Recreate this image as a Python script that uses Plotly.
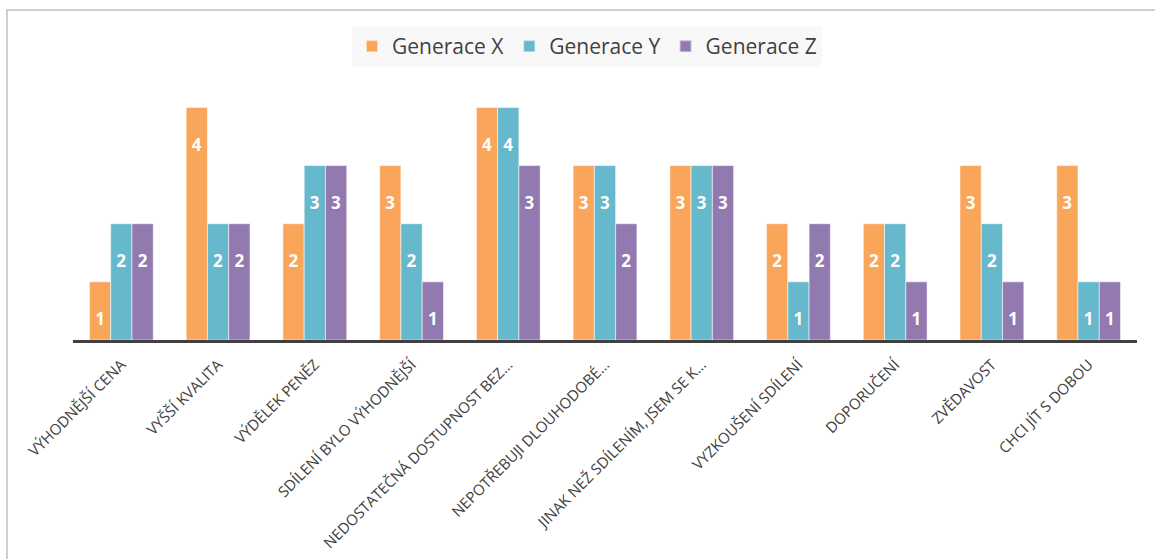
import plotly.graph_objects as go

categories = [
    "VÝHODNĚJŠÍ CENA",
    "VYŠŠÍ KVALITA",
    "VÝDĚLEK PENĚZ",
    "SDÍLENÍ BYLO VÝHODNĚJŠÍ",
    "NEDOSTATEČNÁ DOSTUPNOST BEZ…",
    "NEPOTŘEBUJI DLOUHODOBÉ…",
    "JINAK NEŽ SDÍLENÍM, JSEM SE K…",
    "VYZKOUŠENÍ SDÍLENÍ",
    "DOPORUČENÍ",
    "ZVĚDAVOST",
    "CHCI JÍT S DOBOU",
]
gen_x = [1, 4, 2, 3, 4, 3, 3, 2, 2, 3, 3]
gen_y = [2, 2, 3, 2, 4, 3, 3, 1, 2, 2, 1]
gen_z = [2, 2, 3, 1, 3, 2, 3, 2, 1, 1, 1]

series = [
    ("Generace X", gen_x, "#F9A65A"),
    ("Generace Y", gen_y, "#66B8CC"),
    ("Generace Z", gen_z, "#9279B0"),
]

W, H = 1155, 559
ml, mr, mt, mb = 73, 18, 90, 219
pw = W - ml - mr
ph = H - mt - mb

fig = go.Figure()
for name, vals, col in series:
    fig.add_trace(go.Bar(
        name=name, x=categories, y=vals,
        marker=dict(color=col, line=dict(color="rgba(255,255,255,0.55)", width=1)),
        text=vals, texttemplate=" <br>%{y}", textposition="inside",
        insidetextanchor="end", textangle=0,
        textfont=dict(family="Open Sans", size=17, color="white", weight="bold"),
    ))

def px_x(p):
    return (p - ml) / pw

def px_y(p):
    return 1 - (p - mt) / ph

fig.update_layout(
    width=W, height=H,
    margin=dict(l=ml, r=mr, t=mt, b=mb, pad=0, autoexpand=False),
    barmode="group", bargap=0.34, bargroupgap=0.0,
    paper_bgcolor="white", plot_bgcolor="white",
    font=dict(family="Open Sans", color="#404040"),
    showlegend=True,
    legend=dict(
        orientation="h", xanchor="center", yanchor="top",
        x=px_x(587), y=px_y(26),
        bgcolor="#F8F8F8", font=dict(size=21, color="#404040"),
        itemsizing="constant", traceorder="normal",
    ),
    xaxis=dict(
        showline=True, linecolor="#404040", linewidth=3,
        ticks="", tickangle=-45, tickfont=dict(size=15, color="#404040"),
        ticklabelstandoff=7, automargin=False,
        showgrid=False,
    ),
    yaxis=dict(
        range=[0, 4.3], visible=False, showgrid=False, zeroline=False,
        automargin=False,
    ),
    uniformtext=dict(mode=False),
    shapes=[dict(
        type="rect", xref="paper", yref="paper",
        x0=px_x(7), x1=px_x(1200), y0=px_y(700), y1=px_y(10),
        line=dict(color="#D0D0D0", width=2), fillcolor="rgba(0,0,0,0)",
        layer="below",
    )],
)

fig.write_html("out.html")
